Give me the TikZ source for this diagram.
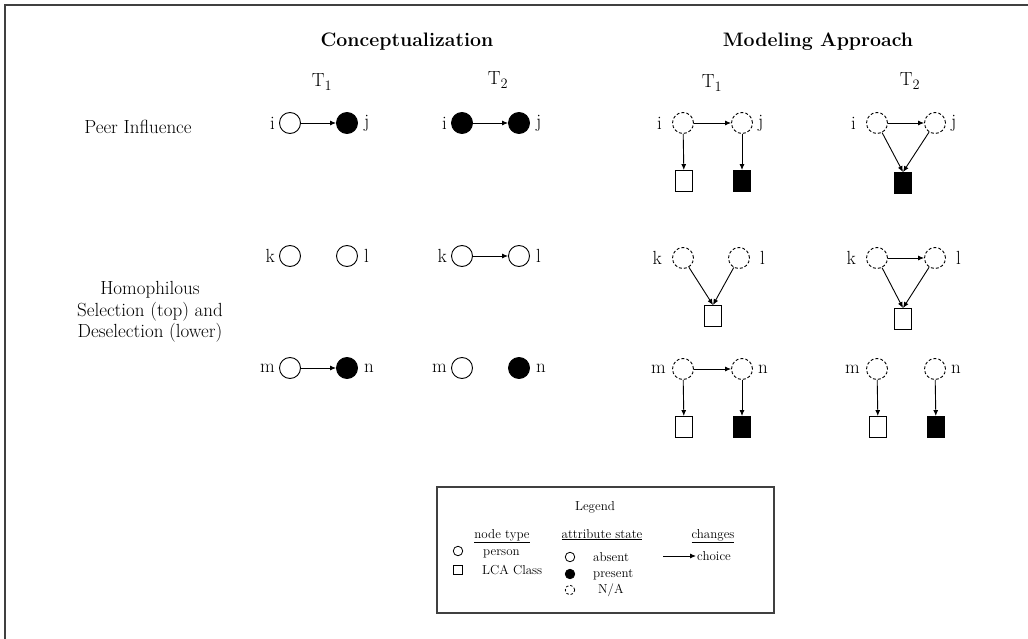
\documentclass[tikz,border=0pt]{standalone}
\usepackage{tikz}
\usetikzlibrary{arrows.meta,positioning}
\tikzset{
  ar/.style={-{Latex[length=6pt,width=5pt]},line width=0.9pt},
  pers/.style={circle,draw,line width=0.9pt,minimum size=21pt,inner sep=0pt},
  persf/.style={pers,fill=black},
  pna/.style={pers,dash pattern=on 3pt off 2pt},
  cls/.style={rectangle,draw,line width=0.9pt,minimum width=17pt,minimum height=21pt,inner sep=0pt},
  clsf/.style={cls,fill=black},
  lab/.style={font=\fontsize{19}{22}\selectfont,inner sep=1pt},
  ttl/.style={font=\fontsize{19.5}{22}\selectfont\bfseries},
  lg/.style={font=\fontsize{13}{15}\selectfont,inner sep=1pt},
  lgi/.style={lg,anchor=base west},
  lgp/.style={circle,draw,line width=0.8pt,minimum size=9.5pt,inner sep=0pt}
}
\begin{document}
\begin{tikzpicture}[x=1pt,y=-1pt]
\useasboundingbox (0,0) rectangle (1028,639);
% frame
\draw[line width=1.5pt,black!75] (5,639) -- (5,5) -- (1028,5);
% headings
\node[ttl] (hcon) at (407,42) {Conceptualization};
\node[ttl] (hmod) at (818,42) {Modeling Approach};
\node[lab] (tc1) at (322,82) {T$_1$};
\node[lab] (tc2) at (498,80) {T$_2$};
\node[lab] (tm1) at (712,83) {T$_1$};
\node[lab] (tm2) at (910,81) {T$_2$};
\node[lab] (peer) at (138,127) {Peer Influence};
\node[lab,align=center,font=\fontsize{19}{21.5}\selectfont] (homo) at (150,312)
  {Homophilous\\Selection (top) and\\Deselection (lower)};

% conceptualization, peer influence
\node[pers] (ci1) at (290,123) {};
\node[persf] (cj1) at (347,123) {};
\node[persf] (ci2) at (462,123) {};
\node[persf] (cj2) at (519,123) {};
\draw[ar] (ci1) -- (cj1);
\draw[ar] (ci2) -- (cj2);
% conceptualization, selection
\node[pers] (ck1) at (290,256) {};
\node[pers] (cl1) at (347,256) {};
\node[pers] (ck2) at (462,256) {};
\node[pers] (cl2) at (519,256) {};
\draw[ar] (ck2) -- (cl2);
% conceptualization, deselection
\node[pers] (cm1) at (290,368) {};
\node[persf] (cn1) at (347,368) {};
\node[pers] (cm2) at (462,368) {};
\node[persf] (cn2) at (519,368) {};
\draw[ar] (cm1) -- (cn1);
% letters
\foreach \a/\b in {ci1/i,ci2/i,ck1/k,ck2/k,cm1/m,cm2/m}
  \node[lab,left=3pt of \a] (l\a) {\b};
\foreach \a/\b in {cj1/j,cj2/j,cl1/l,cl2/l,cn1/n,cn2/n}
  \node[lab,right=5pt of \a] (l\a) {\b};

% modeling, peer influence
\node[pna] (mi1) at (683,123) {};
\node[pna] (mj1) at (742,123) {};
\node[cls] (qi1) at (684,181) {};
\node[clsf] (qj1) at (742,181) {};
\draw[ar] (mi1) -- (mj1);
\draw[ar] (mi1) -- (qi1);
\draw[ar] (mj1) -- (qj1);
\node[pna] (mi2) at (877,123) {};
\node[pna] (mj2) at (935,123) {};
\node[clsf] (qij2) at (903,183) {};
\draw[ar] (mi2) -- (mj2);
\draw[ar] (mi2) -- (qij2.north);
\draw[ar] (mj2) -- (qij2.north);
% modeling, selection
\node[pna] (mk1) at (683,258) {};
\node[pna] (ml1) at (739,258) {};
\node[cls] (qkl1) at (713,316) {};
\draw[ar] (mk1) -- (qkl1.north);
\draw[ar] (ml1) -- (qkl1.north);
\node[pna] (mk2) at (877,258) {};
\node[pna] (ml2) at (935,258) {};
\node[cls] (qkl2) at (903,319) {};
\draw[ar] (mk2) -- (ml2);
\draw[ar] (mk2) -- (qkl2.north);
\draw[ar] (ml2) -- (qkl2.north);
% modeling, deselection
\node[pna] (mm1) at (683,369) {};
\node[pna] (mn1) at (742,369) {};
\node[cls] (qm1) at (684,427) {};
\node[clsf] (qn1) at (742,427) {};
\draw[ar] (mm1) -- (mn1);
\draw[ar] (mm1) -- (qm1);
\draw[ar] (mn1) -- (qn1);
\node[pna] (mm2) at (877,369) {};
\node[pna] (mn2) at (935,369) {};
\node[cls] (qm2) at (878,427) {};
\node[clsf] (qn2) at (936,427) {};
\draw[ar] (mm2) -- (qm2);
\draw[ar] (mn2) -- (qn2);
% letters
\foreach \a/\b in {mi1/i,mi2/i,mk1/k,mk2/k}
  \node[lab,left=9pt of \a] (l\a) {\b};
\foreach \a/\b in {mm1/m,mm2/m}
  \node[lab,left=5pt of \a] (l\a) {\b};
\foreach \a/\b in {mj1/j,mj2/j,mn1/n,mn2/n}
  \node[lab,right=4pt of \a] (l\a) {\b};
\foreach \a/\b in {ml1/l,ml2/l}
  \node[lab,right=9pt of \a] (l\a) {\b};

% legend
\draw[line width=1.2pt,black!75] (437,487) rectangle (774,613);
\node[lg] (lgt) at (595,507) {Legend};
\node[lg,anchor=base] (lgnt) at (502,538) {\underline{node type}};
\node[lg,anchor=base] (lgat) at (602,538) {\underline{attribute state}};
\node[lg,anchor=base] (lgch) at (713,538) {\underline{changes}};
\node[lgp] (lgp1) at (458,551) {};
\node[lgi] (lgpt) at (482,555) {person};
\node[rectangle,draw,line width=0.8pt,minimum size=9.5pt,inner sep=0pt] (lgq) at (458,570) {};
\node[lgi] (lgqt) at (481,574) {LCA Class};
\node[lgp] (lga1) at (570,557) {};
\node[lgi] (lga1t) at (592,561) {absent};
\node[lgp,fill=black] (lga2) at (570,574) {};
\node[lgi] (lga2t) at (592,577) {present};
\node[lgp,dash pattern=on 2.5pt off 2pt] (lga3) at (570,590) {};
\node[lgi] (lga3t) at (597,593) {N/A};
\coordinate (lgs) at (663,556);
\node[lg,anchor=west] (lgc) at (696,556) {choice};
\draw[ar] (lgs) -- (lgc.west);
\end{tikzpicture}
\end{document}
